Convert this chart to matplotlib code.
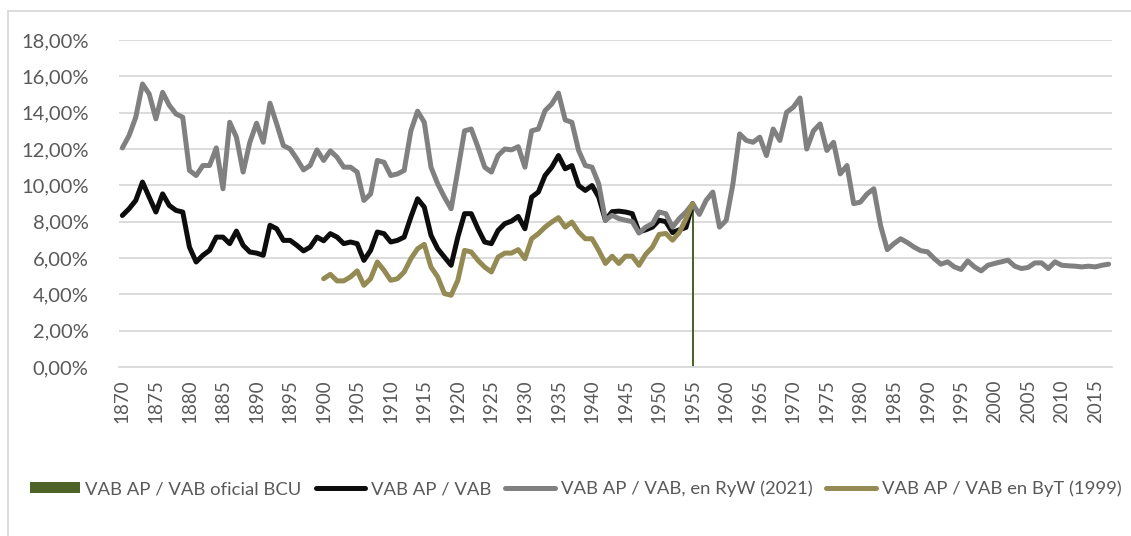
import matplotlib
matplotlib.use('Agg')
import matplotlib.pyplot as plt
from matplotlib.lines import Line2D
from matplotlib.ticker import FixedLocator, FuncFormatter

plt.rcParams['font.family'] = ['Lato', 'DejaVu Sans']

# Serie larga (RyW 2021), 1870-2017, en %
years_ryw = list(range(1870, 2018))
vab_ryw = [
    12.06, 12.74, 13.75, 15.58, 15.03, 13.66, 15.12, 14.40, 13.93, 13.75,
    10.82, 10.54, 11.09, 11.09, 12.06, 9.81, 13.47, 12.65, 10.73, 12.37,
    13.42, 12.37, 14.52, 13.38, 12.19, 12.00, 11.46, 10.85, 11.10, 11.95,
    11.37, 11.90, 11.55, 11.00, 11.00, 10.73, 9.17, 9.53, 11.37, 11.27,
    10.54, 10.63, 10.82, 13.00, 14.08, 13.47, 11.00, 10.08, 9.35, 8.71,
    10.82, 13.00, 13.10, 12.10, 11.00, 10.73, 11.64, 12.00, 11.95, 12.13,
    11.00, 13.00, 13.10, 14.11, 14.48, 15.08, 13.60, 13.47, 11.92, 11.09,
    11.00, 10.08, 8.08, 8.35, 8.17, 8.08, 8.00, 7.37, 7.70, 7.89,
    8.53, 8.44, 7.70, 8.17, 8.53, 8.99, 8.40, 9.17, 9.63, 7.70,
    8.07, 10.08, 12.83, 12.47, 12.37, 12.65, 11.64, 13.10, 12.47, 14.02,
    14.30, 14.81, 12.00, 13.00, 13.38, 11.92, 12.37, 10.63, 11.09, 8.99,
    9.08, 9.53, 9.81, 7.80, 6.46, 6.79, 7.06, 6.85, 6.60, 6.40,
    6.34, 5.97, 5.66, 5.79, 5.51, 5.37, 5.84, 5.51, 5.29, 5.60,
    5.70, 5.79, 5.88, 5.55, 5.42, 5.48, 5.73, 5.73, 5.42, 5.79,
    5.60, 5.57, 5.55, 5.51, 5.55, 5.51, 5.60, 5.66,
]

# VAB AP / VAB, 1870-1955
years_vab = list(range(1870, 1956))
vab_ap = [
    8.34, 8.71, 9.17, 10.18, 9.35, 8.53, 9.53, 8.89, 8.62, 8.53,
    6.60, 5.78, 6.15, 6.42, 7.15, 7.15, 6.79, 7.48, 6.70, 6.33,
    6.27, 6.15, 7.80, 7.61, 6.97, 6.97, 6.70, 6.39, 6.60, 7.15,
    6.95, 7.34, 7.15, 6.79, 6.88, 6.79, 5.87, 6.42, 7.43, 7.34,
    6.88, 6.97, 7.15, 8.25, 9.26, 8.80, 7.25, 6.51, 6.05, 5.60,
    7.15, 8.44, 8.44, 7.61, 6.88, 6.79, 7.52, 7.89, 8.03, 8.29,
    7.61, 9.35, 9.63, 10.54, 11.00, 11.64, 10.91, 11.09, 9.99, 9.72,
    9.99, 9.35, 8.08, 8.55, 8.58, 8.53, 8.44, 7.44, 7.55, 7.70,
    8.08, 8.00, 7.40, 7.55, 7.68, 8.99,
]

# VAB AP / VAB en ByT (1999), 1900-1955
years_byt = list(range(1900, 1956))
vab_byt = [
    4.86, 5.10, 4.74, 4.74, 4.96, 5.29, 4.50, 4.86, 5.78, 5.32,
    4.77, 4.86, 5.23, 5.96, 6.51, 6.75, 5.50, 4.96, 4.04, 3.95,
    4.77, 6.42, 6.33, 5.87, 5.50, 5.23, 6.05, 6.27, 6.27, 6.46,
    5.96, 7.06, 7.34, 7.70, 7.98, 8.22, 7.70, 7.98, 7.43, 7.06,
    7.06, 6.42, 5.70, 6.10, 5.70, 6.10, 6.10, 5.60, 6.20, 6.60,
    7.30, 7.35, 6.98, 7.40, 8.15, 8.99,
]

# VAB AP / VAB oficial BCU (un solo dato)
years_bcu = [1955]
vab_bcu = [8.95]

TEXT = '#595959'
GRID = '#d9d9d9'

fig = plt.figure(figsize=(11.31, 5.36), dpi=100)
ax = fig.add_axes([119 / 1131, 1 - 367 / 536, (1112 - 119) / 1131, (367 - 40) / 536])

line_kw = dict(linewidth=3.6, solid_joinstyle='round', solid_capstyle='round')
bars = ax.bar(years_bcu, vab_bcu, width=0.3, color='#4f6228', label='VAB AP / VAB oficial BCU', zorder=2)
l_vab, = ax.plot(years_vab, vab_ap, color='#0d0d0d', label='VAB AP / VAB', zorder=3, **line_kw)
l_ryw, = ax.plot(years_ryw, vab_ryw, color='#808080', label='VAB AP / VAB, en RyW (2021)', zorder=4, **line_kw)
l_byt, = ax.plot(years_byt, vab_byt, color='#948a54', label='VAB AP / VAB en ByT (1999)', zorder=5, **line_kw)

ax.set_xlim(1869.5, 2017.5)
ax.set_ylim(0, 18)
ax.yaxis.set_major_locator(FixedLocator(range(0, 19, 2)))
ax.yaxis.set_major_formatter(FuncFormatter(lambda v, _: f'{v:.2f}%'.replace('.', ',')))
ax.xaxis.set_major_locator(FixedLocator(range(1870, 2016, 5)))
ax.xaxis.set_major_formatter(FuncFormatter(lambda v, _: f'{int(round(v))}'))

ax.grid(axis='y', color=GRID, linewidth=1.3, zorder=0)
ax.set_axisbelow(True)
for side in ['top', 'right', 'left']:
    ax.spines[side].set_visible(False)
ax.spines['bottom'].set_color(GRID)
ax.spines['bottom'].set_linewidth(1.3)

ax.tick_params(axis='y', length=0, pad=22, labelsize=14.5, labelcolor=TEXT)
ax.tick_params(axis='x', length=0, pad=9, labelsize=13.5, labelcolor=TEXT, rotation=90)

fig.legend(handles=[bars, l_vab, l_ryw, l_byt], loc='center', bbox_to_anchor=(0.509, 0.088),
           ncol=4, frameon=False, fontsize=13.3, labelcolor=TEXT, handlelength=2.7,
           handleheight=0.55, handletextpad=0.3, columnspacing=0.75)

# borde del area del grafico
fig.add_artist(Line2D([8 / 1131, 1], [1 - 11 / 536, 1 - 11 / 536], color=GRID, linewidth=1.3))
fig.add_artist(Line2D([8 / 1131, 8 / 1131], [0, 1 - 11 / 536], color=GRID, linewidth=1.3))

fig.savefig('out.png', dpi=100)
